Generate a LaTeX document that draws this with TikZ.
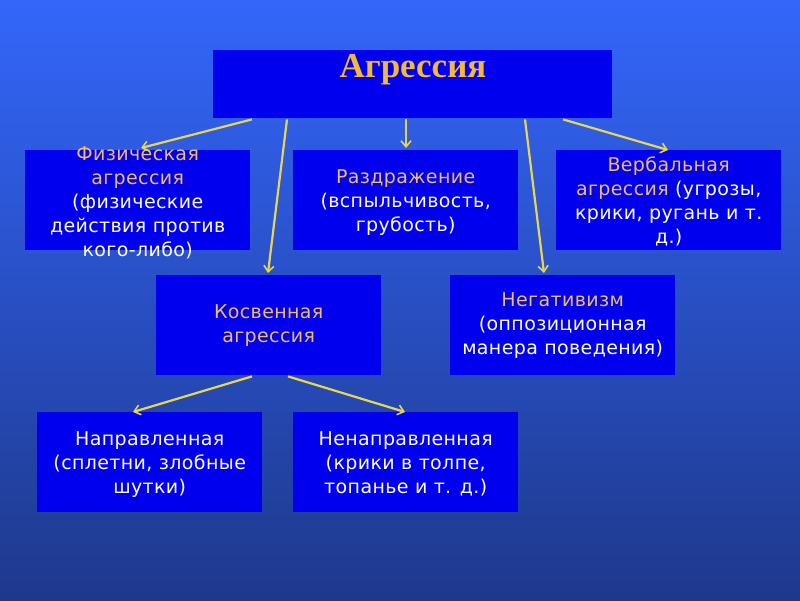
\documentclass[tikz,border=0pt]{standalone}
\usepackage{fontspec}
\setmainfont[LetterSpace=2]{DejaVu Sans}
\newfontfamily\titlefont{Liberation Serif}
\usetikzlibrary{arrows.meta,calc}
\definecolor{bgtop}{RGB}{51,102,250}
\definecolor{bgbot}{RGB}{30,56,140}
\definecolor{boxblue}{RGB}{0,0,238}
\definecolor{gold}{RGB}{244,185,60}
\definecolor{lgold}{RGB}{238,190,110}
\definecolor{arrowyel}{RGB}{232,214,80}
\begin{document}
\begin{tikzpicture}[x=1pt,y=-1pt,
  box/.style={draw=none,fill=boxblue,minimum width=225pt,minimum height=100pt,inner sep=0pt,anchor=north west},
  txt/.style={text=white,align=center,font=\fontsize{19}{24}\selectfont,inner sep=0pt},
  conn/.style={draw=arrowyel,line width=2.2pt,-{Straight Barb[length=6pt,width=10pt,line width=1.6pt]}}]
\useasboundingbox (0,0) rectangle (800,600);
\shade[top color=bgtop,bottom color=bgbot] (0,0) rectangle (800,600);
% boxes
\node[box,minimum width=399pt,minimum height=68pt] (top) at (213,50) {};
\node[box] (phys) at (25,150) {};
\node[box] (irr) at (293,150) {};
\node[box] (verb) at (556,150) {};
\node[box] (ind) at (156,275) {};
\node[box] (neg) at (450,275) {};
\node[box] (dir) at (37,412) {};
\node[box] (undir) at (293,412) {};
% texts
\node[inner sep=0pt,text=gold,font=\titlefont\bfseries\fontsize{35}{40}\selectfont,anchor=base] (toptxt) at (413,77) {Агрессия};
\node[txt] (phystxt) at ($(phys.center)+(0,3)$) {\textcolor{lgold}{Физическая}\\\textcolor{lgold}{агрессия}\\(физические\\действия против\\кого-либо)};
\node[txt] (irrtxt) at ($(irr.center)+(0,2)$) {\textcolor{lgold}{Раздражение}\\(вспыльчивость,\\грубость)};
\node[txt] (verbtxt) at ($(verb.center)+(0,1)$) {\textcolor{lgold}{Вербальная}\\\textcolor{lgold}{агрессия} (угрозы,\\крики, ругань и т.\\д.)};
\node[txt,text=lgold] (indtxt) at ($(ind.center)+(0,0)$) {Косвенная\\агрессия};
\node[txt] (negtxt) at ($(neg.center)+(0,0)$) {\textcolor{lgold}{Негативизм}\\(оппозиционная\\манера поведения)};
\node[txt] (dirtxt) at ($(dir.center)+(0,2)$) {Направленная\\(сплетни, злобные\\шутки)};
\node[txt] (undirtxt) at ($(undir.center)+(0,2)$) {Ненаправленная\\(крики в толпе,\\топанье и т. д.)};
% arrow ends
\coordinate (e1) at (141,148);
\coordinate (e2) at (268,273);
\coordinate (e3) at (406,148);
\coordinate (e4) at (544,273);
\coordinate (e5) at (668,150);
\coordinate (e6) at (133,412);
\coordinate (e7) at (405,412);
\draw[conn] ($(top.south west)+(39,1)$) -- (e1);
\draw[conn] ($(top.south west)+(74,1)$) -- (e2);
\draw[conn] ($(top.south west)+(193,1)$) -- (e3);
\draw[conn] ($(top.south west)+(312,1)$) -- (e4);
\draw[conn] ($(top.south west)+(350,1)$) -- (e5);
\draw[conn] ($(ind.south west)+(96,1)$) -- (e6);
\draw[conn] ($(ind.south west)+(132,1)$) -- (e7);
\end{tikzpicture}
\end{document}
